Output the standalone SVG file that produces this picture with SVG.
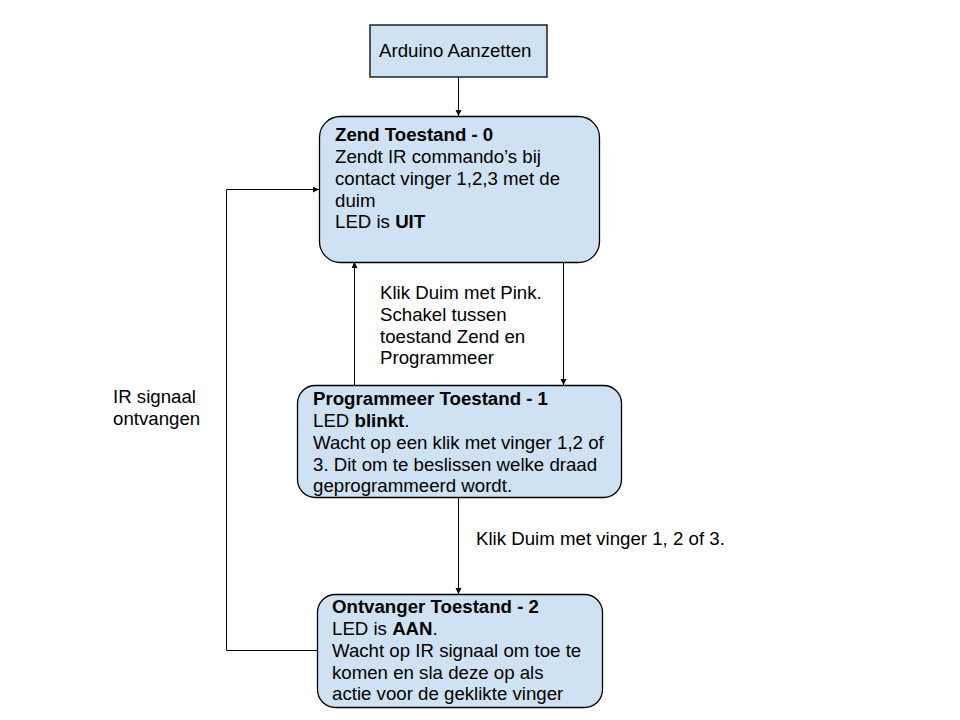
<svg xmlns="http://www.w3.org/2000/svg" width="960" height="720" viewBox="0 0 960 720">
<defs>
<style>
.box{fill:#cfe2f3;stroke:#000;stroke-width:1.3}
.t{font-family:"Liberation Sans",Arial,sans-serif;font-size:18.67px;fill:#000}
.b{font-weight:bold}
.c{fill:none;stroke:#000;stroke-width:1}
</style>
<marker id="ah" markerWidth="8" markerHeight="8" refX="6" refY="3" orient="auto" markerUnits="userSpaceOnUse">
<path d="M0,0 L6,3 L0,6 Z" fill="#000"/>
</marker>
</defs>
<rect width="960" height="720" fill="#fff"/>
<g id="connectors">
<path class="c" d="M458.5,77 V116" marker-end="url(#ah)"/>
<path class="c" d="M563.5,262 V385" marker-end="url(#ah)"/>
<path class="c" d="M354.5,385 V262" marker-end="url(#ah)"/>
<path class="c" d="M458.5,497 V594" marker-end="url(#ah)"/>
<path class="c" d="M317,650.5 H226.5 V189.5 H319" marker-end="url(#ah)"/>
<text class="t" x="380" y="299">Klik Duim met Pink.</text>
<text class="t" x="380" y="321">Schakel tussen</text>
<text class="t" x="380" y="343">toestand Zend en</text>
<text class="t" x="380" y="364">Programmeer</text>
<text class="t" x="113" y="403">IR signaal</text>
<text class="t" x="113" y="425">ontvangen</text>
<text class="t" x="476" y="545">Klik Duim met vinger 1, 2 of 3.</text>
</g>
<g id="arduino">
<rect class="box" x="370" y="25" width="177" height="52"/>
<text class="t" x="379" y="57">Arduino Aanzetten</text>
</g>
<g id="zend">
<rect class="box" x="319.5" y="116.5" width="280" height="146" rx="21"/>
<text class="t b" x="335" y="141">Zend Toestand - 0</text>
<text class="t" x="335" y="163">Zendt IR commando’s bij</text>
<text class="t" x="335" y="185">contact vinger 1,2,3 met de</text>
<text class="t" x="335" y="207">duim</text>
<text class="t" x="335" y="228">LED is <tspan class="b">UIT</tspan></text>
</g>
<g id="programmeer">
<rect class="box" x="297.5" y="385.5" width="324" height="112" rx="18"/>
<text class="t b" x="313" y="405">Programmeer Toestand - 1</text>
<text class="t" x="313" y="427">LED <tspan class="b">blinkt</tspan>.</text>
<text class="t" x="313" y="449">Wacht op een klik met vinger 1,2 of</text>
<text class="t" x="313" y="471">3. Dit om te beslissen welke draad</text>
<text class="t" x="313" y="492">geprogrammeerd wordt.</text>
</g>
<g id="ontvanger">
<rect class="box" x="317.5" y="594.5" width="285" height="113" rx="18"/>
<text class="t b" x="332" y="613">Ontvanger Toestand - 2</text>
<text class="t" x="332" y="635">LED is <tspan class="b">AAN</tspan>.</text>
<text class="t" x="332" y="657">Wacht op IR signaal om toe te</text>
<text class="t" x="332" y="679">komen en sla deze op als</text>
<text class="t" x="332" y="700">actie voor de geklikte vinger</text>
</g>
</svg>
